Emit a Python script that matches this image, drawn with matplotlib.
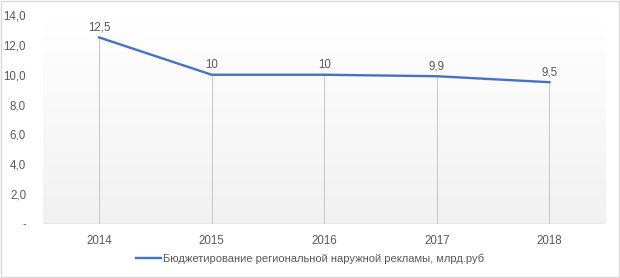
import numpy as np
import matplotlib
matplotlib.use("Agg")
import matplotlib.pyplot as plt
from matplotlib.lines import Line2D
from matplotlib.patches import Rectangle

# ── 데이터 ────────────────────────────────────────────────
years = ["2014", "2015", "2016", "2017", "2018"]
values = [12.5, 10.0, 10.0, 9.9, 9.5]
value_labels = ["12,5", "10", "10", "9,9", "9,5"]
y_ticks = [0, 2, 4, 6, 8, 10, 12, 14]
y_tick_labels = ["-", "2,0", "4,0", "6,0", "8,0", "10,0", "12,0", "14,0"]
series_name = "Бюджетирование региональной наружной рекламы, млрд.руб"

TEXT = "#595959"
LINE = "#4472C4"
GRID = "#C8C8C8"

plt.rcParams["font.family"] = ["Liberation Sans", "DejaVu Sans"]

fig = plt.figure(figsize=(6.2, 2.78), dpi=100)
ax = fig.add_axes([0.069, 0.194, 0.908, 0.752])

x = np.arange(len(years))
ax.set_xlim(-0.5, len(years) - 0.5)
ax.set_ylim(0, 14)

# 배경 그라데이션 (위: 흰색 → 아래: 연회색)
grad = np.linspace(1.0, 0.945, 256).reshape(-1, 1)
ax.imshow(np.dstack([grad, grad, grad]), aspect="auto",
          extent=(-0.5, len(years) - 0.5, 0, 13.5), origin="upper", zorder=0)

# 드롭 라인
ax.vlines(x, 0, values, color=GRID, linewidth=0.75, zorder=1)
ax.axhline(0, color="#D9D9D9", linewidth=1.0, zorder=1)

ax.plot(x, values, color=LINE, linewidth=1.7, zorder=3)

for xi, v, lab in zip(x, values, value_labels):
    ax.annotate(lab, (xi, v), xytext=(0, 2.5), textcoords="offset points",
                ha="center", va="bottom", fontsize=8.3, color=TEXT)

ax.set_xticks(x)
ax.set_xticklabels(years, fontsize=8.3, color=TEXT)
ax.set_yticks(y_ticks)
ax.set_yticklabels(y_tick_labels, fontsize=8.3, color=TEXT)
ax.tick_params(length=0, pad=8)
ax.tick_params(axis="y", pad=12)
for s in ax.spines.values():
    s.set_visible(False)

handles = [Line2D([0], [0], color=LINE, linewidth=1.7)]
fig.legend(handles, [series_name], loc="center", bbox_to_anchor=(0.5, 0.07),
           frameon=False, fontsize=8.0, labelcolor=TEXT, handlelength=2.2,
           handletextpad=0.2)

# 외곽 테두리
fig.patches.append(Rectangle((0.002, 0.003), 0.996, 0.994, transform=fig.transFigure,
                             fill=False, edgecolor="#D9D9D9", linewidth=1.0))

fig.savefig("out.png", dpi=100)
